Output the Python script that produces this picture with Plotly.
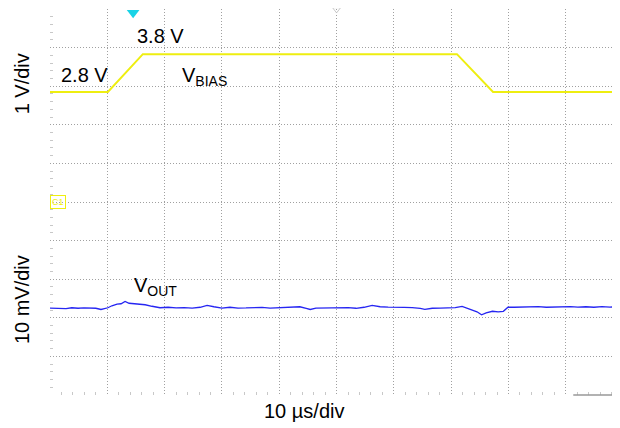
import plotly.graph_objects as go

# ---- data read off the scope capture ----
# time in microseconds, 10 us/div
bias_t = [0, 10.1, 16.2, 71.0, 77.3, 99.5]
bias_v = [2.85, 2.85, 3.83, 3.83, 2.85, 2.85]      # volts, 1 V/div

vout_t = [0, 0.87, 1.75, 2.8, 3.8, 4.9, 5.9, 7.0, 8.0, 8.9, 9.4, 10.1, 10.8, 11.7,
          12.4, 13.1, 13.8, 14.7, 15.7, 16.6, 17.8, 19.2, 20.6, 22.0, 23.4, 24.8,
          26.2, 27.4, 28.6, 30.0, 31.4, 32.8, 34.2, 35.6, 37.0, 38.4, 39.8, 41.2,
          42.4, 43.6, 44.7, 45.4, 46.4, 47.8, 49.2, 50.6, 52.0, 53.4, 54.8, 56.2,
          57.6, 59.0, 60.4, 61.8, 63.2, 64.6, 65.4, 66.7, 68.1, 69.5, 70.7, 71.9,
          72.8, 73.6, 74.5, 75.3, 76.1, 77.2, 78.2, 79.1, 79.9, 81.0, 82.4, 83.8,
          85.2, 86.6, 88.0, 89.4, 90.8, 92.1, 93.5, 94.9, 96.3, 97.7, 99.5]
vout_mv = [-0.08, -0.13, 0, -0.21, 0, -0.13, -0.05, -0.18, -0.13, -0.44, -0.26, 0,
           0.52, 0.96, 1.04, 1.63, 1.17, 1.04, 0.91, 0.78, 0.39, 0, 0.13, -0.05,
           0.05, -0.08, 0.13, 0.60, 0.26, -0.08, 0.13, -0.08, -0.05, 0, 0.10,
           -0.10, 0, 0.10, 0.34, 0.26, -0.13, -0.44, -0.10, -0.05, 0.05, -0.08,
           0.05, -0.13, 0.13, 0.60, 0.26, 0.16, 0.05, 0.10, 0.03, -0.13, -0.44,
           -0.13, -0.08, -0.10, 0.05, 0.34, -0.08, -0.52, -1.04, -1.82, -1.30,
           -0.91, -1.04, -0.91, 0.13, 0.13, 0.18, 0.13, 0.31, 0.13, 0.21, 0.10,
           0.31, 0.18, 0.26, 0.13, 0.31, 0.18, 0.26]    # mV deviation, 10 mV/div

bias_ground_div = 5.0     # C1 ground marker position
bias_scale = 1.0          # V per div
vout_offset_div = 2.26
vout_scale = 10.0         # mV per div

trigger_t = 14.5
center_t = 50.0

FONT = "Liberation Sans, Arial, Helvetica, sans-serif"
YELLOW = "#EEEE10"
BLUE = "#2626F2"
GRID = "#a0a0a0"
DOTS = "1px,2px"

bias_div = [bias_ground_div + v / bias_scale for v in bias_v]
vout_div = [vout_offset_div + v / vout_scale for v in vout_mv]

fig = go.Figure()
fig.add_trace(go.Scatter(x=bias_t, y=bias_div, mode="lines",
                         line=dict(color=YELLOW, width=2), hoverinfo="skip"))
fig.add_trace(go.Scatter(x=vout_t, y=vout_div, mode="lines",
                         line=dict(color=BLUE, width=1.3), hoverinfo="skip"))

# trigger / horizontal position markers at the top
fig.add_trace(go.Scatter(x=[trigger_t], y=[9.9], mode="markers", cliponaxis=False,
                         marker=dict(symbol="triangle-down", size=11, color="#19D3E6"),
                         hoverinfo="skip"))
fig.add_trace(go.Scatter(x=[center_t], y=[9.99], mode="markers", cliponaxis=False,
                         marker=dict(symbol="triangle-down-open", size=7, color="#c8c8c8"),
                         hoverinfo="skip"))

txt = dict(family=FONT, size=20, color="black")
fig.add_annotation(x=6.1, y=8.28, text="2.8 V", showarrow=False, font=txt)
fig.add_annotation(x=19.2, y=9.31, text="3.8 V", showarrow=False, font=txt)
fig.add_annotation(x=22.6, y=8.25, text="V<sub>BIAS</sub>", showarrow=False, font=txt,
                   xanchor="left")
fig.add_annotation(x=14.3, y=2.8, text="V<sub>OUT</sub>", showarrow=False, font=txt,
                   xanchor="left")

# channel 1 ground marker
fig.add_annotation(x=0.05, y=bias_ground_div, text="C1", showarrow=False, xanchor="left",
                   font=dict(family=FONT, size=9, color=YELLOW),
                   bordercolor=YELLOW, borderwidth=1, borderpad=1)

# axis scale labels
fig.add_annotation(xref="paper", yref="paper", x=-0.049, y=0.805, text="1 V/div",
                   textangle=-90, showarrow=False, font=txt,
                   xanchor="center", yanchor="middle")
fig.add_annotation(xref="paper", yref="paper", x=-0.049, y=0.246, text="10 mV/div",
                   textangle=-90, showarrow=False, font=txt,
                   xanchor="center", yanchor="middle")
fig.add_annotation(xref="paper", yref="paper", x=0.4456, y=-0.042, text="10 µs/div",
                   showarrow=False, font=txt, xanchor="center", yanchor="middle")

fig.add_shape(type="line", xref="paper", yref="paper", x0=0.918, x1=1.0, y0=0, y1=0,
              line=dict(color="#999999", width=1.5))

fig.update_xaxes(range=[0, 99.45], dtick=10, tick0=0, showticklabels=False,
                 showgrid=True, gridcolor=GRID, griddash=DOTS, gridwidth=1,
                 zeroline=False, showline=False, ticks="",
                 minor=dict(dtick=2, ticks="inside", ticklen=3, tickcolor="#c8c8c8"),
                 mirror="allticks")
fig.update_yaxes(range=[0, 10], dtick=1, tick0=0, showticklabels=False,
                 showgrid=True, gridcolor=GRID, griddash=DOTS, gridwidth=1,
                 zeroline=False, showline=False, ticks="",
                 minor=dict(dtick=0.2, ticks="inside", ticklen=3, tickcolor="#c8c8c8"),
                 mirror="allticks")

# the page body adds an 8px offset, so margins are trimmed to compensate
fig.update_layout(width=620, height=428, showlegend=False,
                  margin=dict(l=42, r=8, t=1, b=41, autoexpand=False),
                  paper_bgcolor="white", plot_bgcolor="white",
                  font=dict(family=FONT))

fig.write_html("out.html")
